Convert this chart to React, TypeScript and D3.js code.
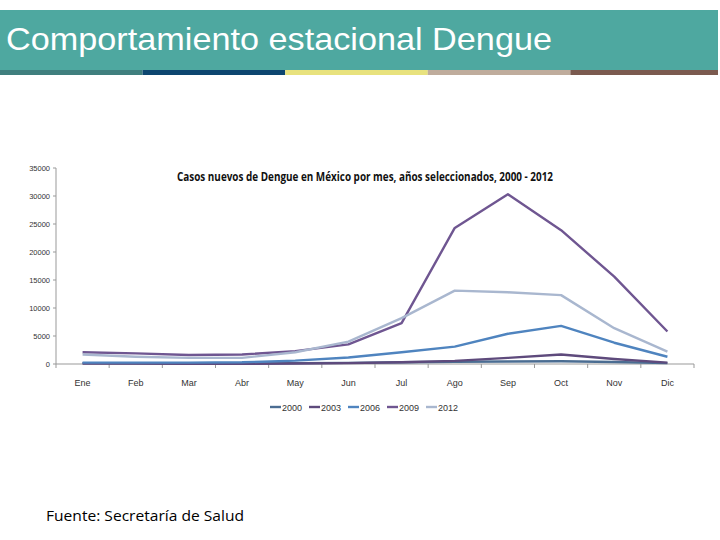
import React from "react";
import * as d3 from "d3";

const months = ["Ene", "Feb", "Mar", "Abr", "May", "Jun", "Jul", "Ago", "Sep", "Oct", "Nov", "Dic"];
const years = ["2000", "2003", "2006", "2009", "2012"];
const s2000 = [150, 120, 100, 100, 150, 200, 300, 400, 450, 500, 350, 150];
const s2003 = [80, 60, 50, 50, 80, 150, 300, 550, 1100, 1700, 900, 250];
const s2006 = [250, 250, 250, 300, 600, 1150, 2100, 3100, 5400, 6800, 3800, 1300];
const s2009 = [2100, 1900, 1600, 1700, 2300, 3500, 7300, 24300, 30300, 23900, 15600, 5800];
const s2012 = [1700, 1300, 1100, 1100, 2100, 4000, 8200, 13100, 12800, 12300, 6400, 2200];
const seriesValues = [s2000, s2003, s2006, s2009, s2012];
const colors = ["#4b6d92", "#5e4a7c", "#4f84bf", "#6f5691", "#a9b7cf"];
const yTicks = [0, 5000, 10000, 15000, 20000, 25000, 30000, 35000];
const stripColors = ["#3f7f7e", "#0d4670", "#e8e27e", "#bfac9c", "#7b5a4f"];

export default function App() {
  const x = d3.scaleBand<string>().domain(months).range([56, 694]);
  const y = d3.scaleLinear().domain([0, 35000]).range([364, 168]);
  const cx = (m: string) => (x(m) as number) + x.bandwidth() / 2;
  const line = d3
    .line<number>()
    .x((_, i) => cx(months[i]))
    .y((v) => y(v));
  const stripX = d3.scaleLinear().domain([0, 5]).range([0, 713]);

  return (
    <svg
      width={720}
      height={540}
      style={{ position: "absolute", left: 0, top: 0, background: "#fff" }}
      fontFamily="'Liberation Sans', Arial, sans-serif"
    >
      <defs>
        <radialGradient id="shadow" cx="0.5" cy="0" r="0.5">
          <stop offset="0" stopColor="#888" stopOpacity={0.55} />
          <stop offset="1" stopColor="#888" stopOpacity={0} />
        </radialGradient>
      </defs>
      {/* header */}
      <ellipse cx={370} cy={75} rx={260} ry={16} fill="url(#shadow)" />
      <rect x={0} y={10} width={718} height={60} fill="#4ea8a0" />
      {stripColors.map((c, i) => (
        <rect key={c} x={stripX(i)} y={70} width={stripX(i + 1) - stripX(i) + (i === 4 ? 5 : 0)} height={5} fill={c} />
      ))}
      <text x={6} y={50} fill="#fff" fontSize={32} textLength={546} lengthAdjust="spacingAndGlyphs">
        Comportamiento estacional Dengue
      </text>

      {/* chart title */}
      <text
        x={177}
        y={181}
        fontSize={12}
        fontWeight="bold"
        fill="#111"
        fontFamily="'Open Sans', sans-serif"
        textLength={376}
        lengthAdjust="spacingAndGlyphs"
      >
        Casos nuevos de Dengue en México por mes, años seleccionados, 2000 - 2012
      </text>

      {/* y axis */}
      <line x1={56} x2={56} y1={168} y2={364} stroke="#999" strokeWidth={1} />
      {yTicks.map((t) => (
        <g key={t}>
          <line x1={53} x2={56} y1={y(t)} y2={y(t)} stroke="#999" />
          <text x={50} y={y(t) + 3} fontSize={7.5} textAnchor="end" fill="#333">
            {t}
          </text>
        </g>
      ))}

      {/* x axis */}
      <line x1={56} x2={694} y1={364} y2={364} stroke="#999" strokeWidth={1} />
      {months.map((m) => (
        <g key={m}>
          <line x1={x(m) as number} x2={x(m) as number} y1={364} y2={368} stroke="#999" />
          <text x={cx(m)} y={386} fontSize={9} textAnchor="middle" fill="#333">
            {m}
          </text>
        </g>
      ))}
      <line x1={694} x2={694} y1={364} y2={368} stroke="#999" />

      {/* lines */}
      {seriesValues.map((vals, i) => (
        <path key={years[i]} d={line(vals) || ""} fill="none" stroke={colors[i]} strokeWidth={2.4} strokeLinejoin="round" />
      ))}

      {/* legend */}
      {years.map((yr, i) => (
        <g key={yr} transform={`translate(${270 + i * 39},407)`}>
          <line x1={0} x2={11} y1={0} y2={0} stroke={colors[i]} strokeWidth={2.4} />
          <text x={12} y={3.5} fontSize={9} fill="#333">
            {yr}
          </text>
        </g>
      ))}

      {/* footer */}
      <text
        x={46}
        y={521}
        fontSize={15}
        fill="#000"
        fontFamily="'Open Sans', sans-serif"
        textLength={198}
        lengthAdjust="spacingAndGlyphs"
      >
        Fuente: Secretaría de Salud
      </text>
    </svg>
  );
}
